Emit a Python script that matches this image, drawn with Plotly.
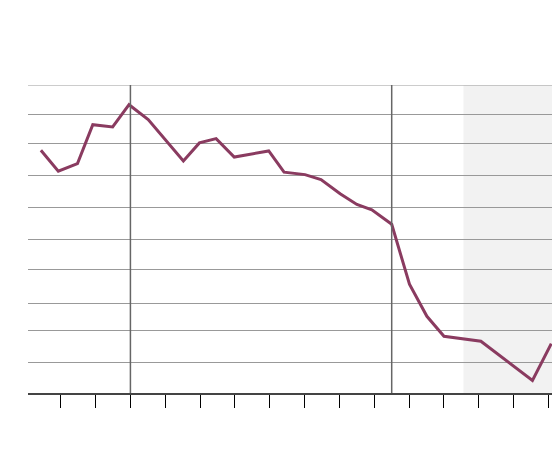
import plotly.graph_objects as go

# Data (x in tick units, y in arbitrary units)
x_vals = [-0.57, -0.07, 0.48, 0.92, 1.49, 1.96, 2.51, 3.0, 3.52, 3.98, 4.46, 4.98,
          5.97, 6.41, 7.01, 7.47, 8.02, 8.5, 8.93, 9.5, 10.01, 10.51, 11.0, 12.06,
          13.54, 14.08]
y_vals = [7.88, 7.20, 7.45, 8.71, 8.64, 9.36, 8.88, 8.24, 7.53, 8.12, 8.26, 7.66,
          7.86, 7.17, 7.09, 6.93, 6.47, 6.12, 5.95, 5.48, 3.53, 2.49, 1.84, 1.68,
          0.41, 1.60]

x_ticks = list(range(0, 15))
y_grid = [0, 0.99, 2.04, 2.90, 4.02, 4.98, 6.02, 7.06, 8.09, 9.05, 10]
event_x = [2.0, 9.5]
shade_start = 11.56
x_range = [-0.94, 14.13]
y_range = [0, 10]

fig = go.Figure()
fig.add_trace(go.Scatter(
    x=x_vals, y=y_vals, mode="lines",
    line=dict(color="#8a3b60", width=3),
    hoverinfo="skip", showlegend=False,
))

shapes = [dict(type="rect", xref="x", yref="y domain", x0=shade_start, x1=x_range[1],
               y0=0, y1=1, fillcolor="#f2f2f2", line=dict(width=0), layer="below")]
# top gridline (plotly culls grid lines on the range edge)
shapes.append(dict(type="line", xref="x domain", yref="y", x0=0, x1=1,
                   y0=y_grid[-1], y1=y_grid[-1],
                   line=dict(color="#999999", width=1), layer="below"))
for ex in event_x:
    shapes.append(dict(type="line", xref="x", yref="y domain", x0=ex, x1=ex, y0=0, y1=1,
                       line=dict(color="#666666", width=1.5), layer="above"))

fig.update_layout(
    width=552, height=464,
    margin=dict(l=20, r=7, t=77, b=79),
    paper_bgcolor="white", plot_bgcolor="white",
    shapes=shapes,
    xaxis=dict(range=x_range, tickvals=x_ticks, ticks="outside", ticklen=13,
               tickcolor="#000000", tickwidth=1, showticklabels=False,
               showgrid=False, zeroline=False, showline=True,
               linecolor="#444444", linewidth=1.5),
    yaxis=dict(range=y_range, tickvals=y_grid, showticklabels=False, ticks="",
               showgrid=True, gridcolor="#999999", gridwidth=1, zeroline=False,
               showline=False),
)

fig.write_html("out.html")
